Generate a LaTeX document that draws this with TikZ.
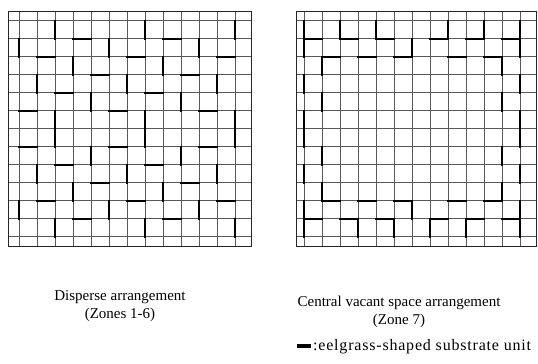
\documentclass[tikz,border=0pt]{standalone}
\usepackage{fontspec}
\setmainfont{Liberation Serif}
\usetikzlibrary{positioning}

\begin{document}
\begin{tikzpicture}[
    x=1pt, y=-1pt,
    gridline/.style={draw=black!65, line width=0.5pt},
    gridframe/.style={draw=black!85, line width=0.9pt},
    unitbar/.style={draw=black, line width=2.4pt, line cap=rect},
    caption/.style={font=\fontsize{15}{17}\selectfont, inner sep=0pt}
]
\useasboundingbox (0,0) rectangle (538,364);

% ===== Disperse arrangement (Zones 1-6) =====
\begin{scope}[shift={(19,20.7)}, x=18pt, y=-18pt]
    \foreach \i in {0,...,12} {
        \draw[gridline] (\i,-0.5) -- (\i,12.52);
        \draw[gridline] (-0.58,\i) -- (12.94,\i);
    }
    \draw[gridframe] (-0.58,-0.5) rectangle (12.94,12.52);
    % vertical units, row by row
    \foreach \k/\cols in {0/{2,7,12}, 1/{0,5,10}, 2/{3,8}, 3/{1,6,11},
                          4/{4,9}, 5/{2,7,12}, 6/{2,7,12}, 7/{4,9},
                          8/{1,6,11}, 9/{3,8}, 10/{0,5,10}, 11/{2,7,12}}
        \foreach \c in \cols
            \draw[unitbar] (\c,\k) -- (\c,\k+1);
    % horizontal units, line by line
    \foreach \r/\cols in {1/{3,8}, 2/{1,6,11}, 3/{4,9}, 4/{2,7}, 5/{0,5,10},
                          7/{0,5,10}, 8/{2,7}, 9/{4,9}, 10/{1,6,11}, 11/{3,8}}
        \foreach \c in \cols
            \draw[unitbar] (\c,\r) -- (\c+1,\r);
\end{scope}

% ===== Central vacant space arrangement (Zone 7) =====
\begin{scope}[shift={(304,20.7)}, x=18pt, y=-18pt]
    \foreach \i in {0,...,12} {
        \draw[gridline] (\i,-0.5) -- (\i,12.52);
        \draw[gridline] (-0.44,\i) -- (12.93,\i);
    }
    \draw[gridframe] (-0.44,-0.5) rectangle (12.93,12.52);
    % vertical units, row by row
    \foreach \k/\cols in {0/{0,2,4,8,10,12}, 1/{0,6,12}, 2/{1,11}, 3/{0,12},
                          4/{1,11}, 5/{0,12}, 6/{0,12}, 7/{1,11},
                          8/{0,12}, 9/{1,11}, 10/{0,6,12}, 11/{0,3,5,7,9,12}}
        \foreach \c in \cols
            \draw[unitbar] (\c,\k) -- (\c,\k+1);
    % horizontal units, line by line
    \foreach \r/\cols in {1/{0,2,4,7,9,11}, 2/{1,3,5,8,10},
                          10/{1,3,5,8,10}, 11/{0,2,4,7,9,11}}
        \foreach \c in \cols
            \draw[unitbar] (\c,\r) -- (\c+1,\r);
\end{scope}

% ===== Captions =====
\node[caption] (dispTitle) at (120,297) {Disperse arrangement};
\node[caption, below=4pt of dispTitle] (dispZone) {(Zones 1-6)};
\node[caption] (centTitle) at (399,303) {Central vacant space arrangement};
\node[caption, below=4pt of centTitle] (centZone) {(Zone 7)};

% ===== Key =====
\node[caption, anchor=west, font=\fontsize{16}{18}\selectfont\addfontfeatures{LetterSpace=5}]
    (keyText) at (313,347) {:eelgrass-shaped substrate unit};
\draw[unitbar, line width=3.2pt, line cap=butt] ([xshift=-16pt,yshift=1pt]keyText.west) -- ([xshift=-2pt,yshift=1pt]keyText.west);

\end{tikzpicture}
\end{document}
